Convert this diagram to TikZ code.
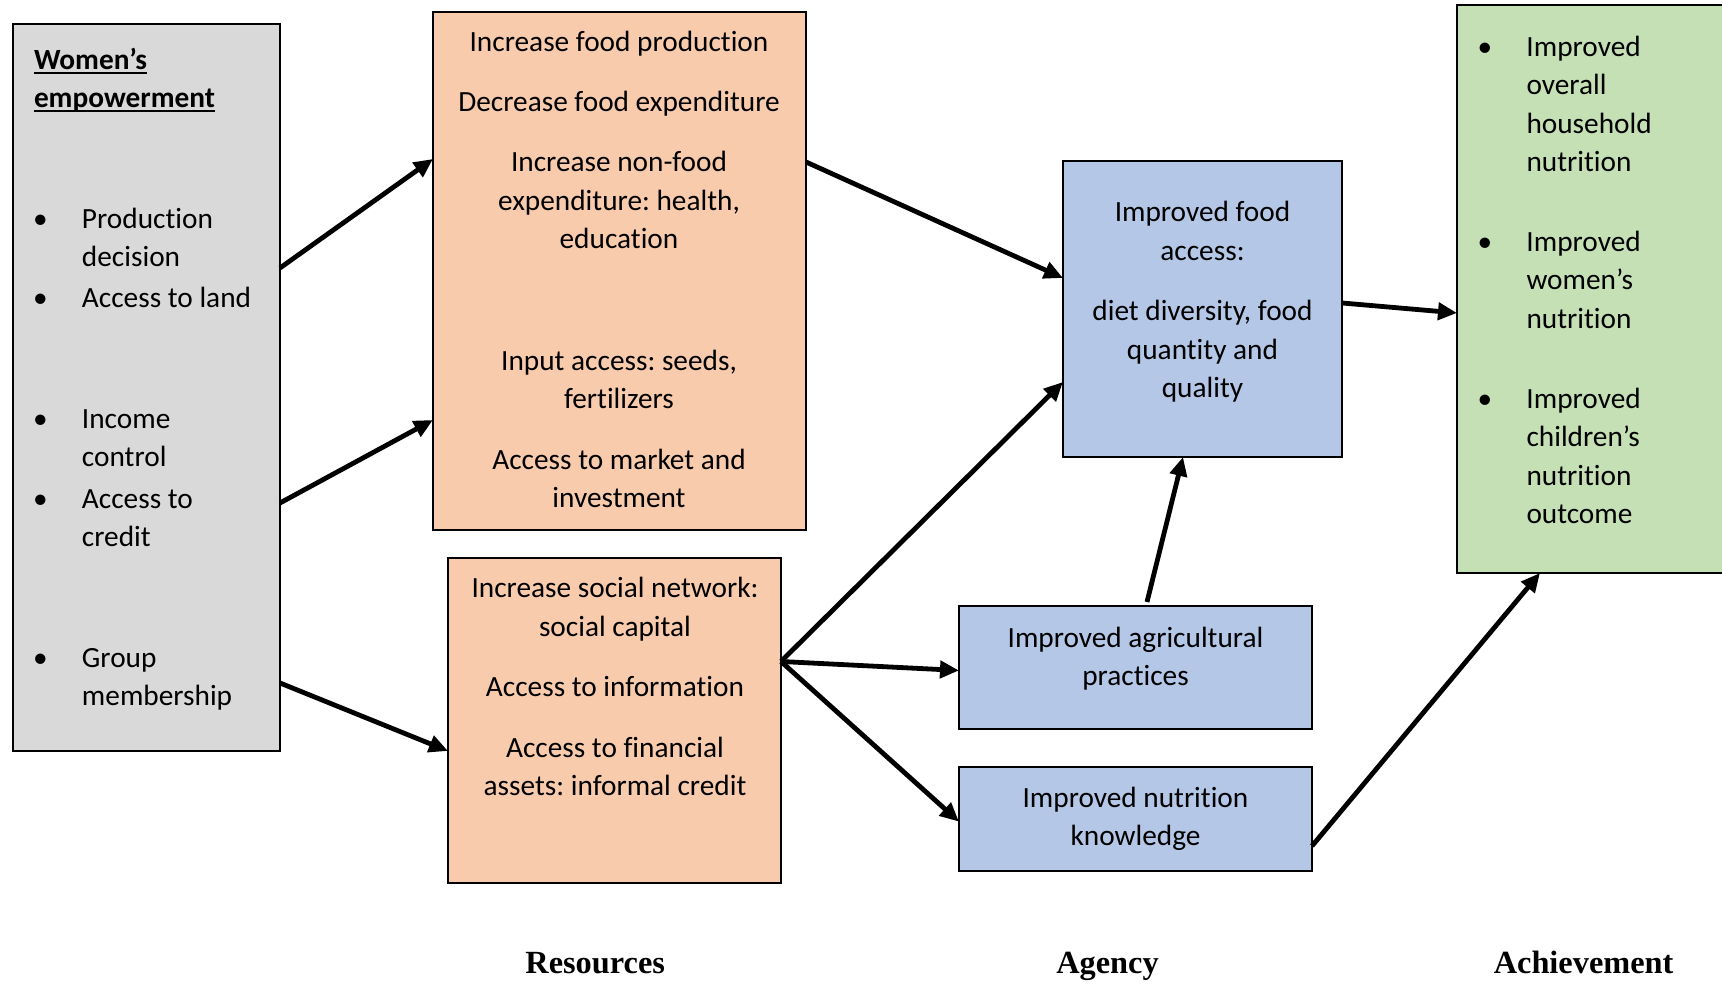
\documentclass[tikz,border=0pt]{standalone}
\usepackage{fontspec}
\setmainfont{Carlito}[Ligatures=NoCommon]
\newfontfamily\headserif{Liberation Serif}
\usetikzlibrary{arrows.meta}
\frenchspacing

\definecolor{empgrey}{HTML}{D9D9D9}
\definecolor{resorange}{HTML}{F8CBAD}
\definecolor{agencyblue}{HTML}{B4C7E7}
\definecolor{achgreen}{HTML}{C5E0B4}

% bullet sitting on the left edge of a fixed indent, and the bare indent
\newcommand{\itembul}{\makebox[0.415cm][l]{\makebox[0pt]{\textbullet}}}
\newcommand{\itemind}{\hspace*{0.415cm}}
% underline kept at a fixed depth under the baseline
\newcommand{\flatunder}[1]{\setbox0\hbox{#1}\rlap{\rule[-1.3pt]{\wd0}{0.55pt}}\box0}

\begin{document}
\begin{tikzpicture}[
    box/.style={draw=black, line width=0.022cm, inner sep=0pt, outer sep=0pt},
    boxtext/.style={inner sep=0pt, outer sep=0pt},
    flow/.style={-{Triangle[length=0.19cm,width=0.17cm]}, line width=0.048cm},
    colhead/.style={inner sep=0pt, font=\headserif\bfseries\fontsize{9.2pt}{11pt}\selectfont}
  ]
  \useasboundingbox (0,0) rectangle (17.220000,9.820000);
  \clip (0,0) rectangle (17.220000,9.820000);
  {\fontsize{8.34pt}{10.93pt}\selectfont

  % Drawing box of women's empowerment (text placed by its last line)
  \node (empower) [box, fill=empgrey, minimum width=2.670000cm, minimum height=7.270000cm] at (1.465000,5.945000) {};%
  \node (empowertext) [boxtext, anchor=base west, align=left] at (0.340000,2.765000)
    {\textbf{\flatunder{Women’s}}\\
     \textbf{\flatunder{empowerment}}\\[0.820000cm]
     \hspace*{0.065cm}\itembul Production\\
     \hspace*{0.065cm}\itemind decision\\[0.030000cm]
     \hspace*{0.065cm}\itembul Access to land\\[0.820000cm]
     \hspace*{0.065cm}\itembul Income\\
     \hspace*{0.065cm}\itemind control\\[0.030000cm]
     \hspace*{0.065cm}\itembul Access to\\
     \hspace*{0.065cm}\itemind credit\\[0.820000cm]
     \hspace*{0.065cm}\itembul Group\\
     \hspace*{0.065cm}\itemind membership};%

  % Drawing box of resources from production and income
  \node (resfood) [box, fill=resorange, minimum width=3.730000cm, minimum height=5.180000cm] at (6.195000,7.110000) {};%
  \node (resfoodtext) [boxtext, anchor=base, align=center] at (6.190000,4.745000)
    {Increase food production\\[0.220000cm]
     Decrease food expenditure\\[0.220000cm]
     Increase non-food\\
     expenditure: health,\\
     education\\[0.830000cm]
     Input access: seeds,\\
     fertilizers\\[0.220000cm]
     Access to market and\\
     investment};%

  % Drawing box of resources from group membership
  \node (ressocial) [box, fill=resorange, minimum width=3.330000cm, minimum height=3.250000cm] at (6.145000,2.615000) {};%
  \node (ressocialtext) [boxtext, anchor=base, align=center] at (6.150000,1.865000)
    {Increase social network:\\
     social capital\\[0.220000cm]
     Access to information\\[0.220000cm]
     Access to financial\\
     assets: informal credit};%

  % Drawing agency boxes
  \node (foodaccess) [box, fill=agencyblue, minimum width=2.790000cm, minimum height=2.960000cm] at (12.025000,6.730000) {};%
  \node (foodaccesstext) [boxtext, anchor=base, align=center] at (12.025000,5.845000)
    {Improved food\\
     access:\\[0.220000cm]
     diet diversity, food\\
     quantity and\\
     quality};%

  \node (agripractice) [box, fill=agencyblue, minimum width=3.530000cm, minimum height=1.230000cm] at (11.355000,3.145000) {};%
  \node (agripracticetext) [boxtext, anchor=base, align=center] at (11.355000,2.965000)
    {Improved agricultural\\
     practices};%

  \node (nutriknow) [box, fill=agencyblue, minimum width=3.530000cm, minimum height=1.040000cm] at (11.355000,1.630000) {};%
  \node (nutriknowtext) [boxtext, anchor=base, align=center] at (11.355000,1.360000)
    {Improved nutrition\\
     knowledge};%

  % Drawing achievement box (runs off the right edge)
  \node (achieve) [box, fill=achgreen, minimum width=2.880000cm, minimum height=5.680000cm] at (16.010000,6.930000) {};%
  \node (achievetext) [boxtext, anchor=base west, align=left] at (14.850000,4.585000)
    {\itembul Improved\\
     \itemind overall\\
     \itemind household\\
     \itemind nutrition\\[0.415000cm]
     \itembul Improved\\
     \itemind women’s\\
     \itemind nutrition\\[0.415000cm]
     \itembul Improved\\
     \itemind children’s\\
     \itemind nutrition\\
     \itemind outcome};%

  % Marking the point where the social box branches out
  \coordinate (hub) at ([yshift=0.590000cm]ressocial.east);%

  % Drawing arrows from empowerment to resources
  \draw [flow] ([yshift=1.195000cm]empower.east) -- ([yshift=1.120000cm]resfood.west);%
  \draw [flow] ([yshift=-1.155000cm]empower.east) -- ([yshift=-1.490000cm]resfood.west);%
  \draw [flow] ([yshift=-2.955000cm]empower.east) -- ([yshift=-0.305000cm]ressocial.west);%

  % Drawing arrows from resources to agency
  \draw [flow] ([yshift=1.090000cm]resfood.east) -- ([yshift=0.310000cm]foodaccess.west);%
  \draw [flow] (hub) -- ([yshift=-0.730000cm]foodaccess.west);%
  \draw [flow] (hub) -- ([yshift=-0.030000cm]agripractice.west);%
  \draw [flow] (hub) -- ([yshift=-0.027000cm]nutriknow.west);%
  \draw [flow] ([xshift=0.115000cm,yshift=0.040000cm]agripractice.north) -- ([xshift=-0.195000cm]foodaccess.south);%

  % Drawing arrows from agency to achievement
  \draw [flow] ([yshift=0.060000cm]foodaccess.east) -- ([yshift=-0.240000cm]achieve.west);%
  \draw [flow] ([yshift=-0.270000cm]nutriknow.east) -- ([xshift=-0.610000cm]achieve.south);%
  }

  % Marking column headings
  \node (headres) [colhead, anchor=base] at (5.952000,0.080000) {Resources};%
  \node (headagency) [colhead, anchor=base] at (11.075000,0.080000) {Agency};%
  \node (headach) [colhead, anchor=base] at (15.836000,0.080000) {Achievement};%
\end{tikzpicture}
\end{document}
